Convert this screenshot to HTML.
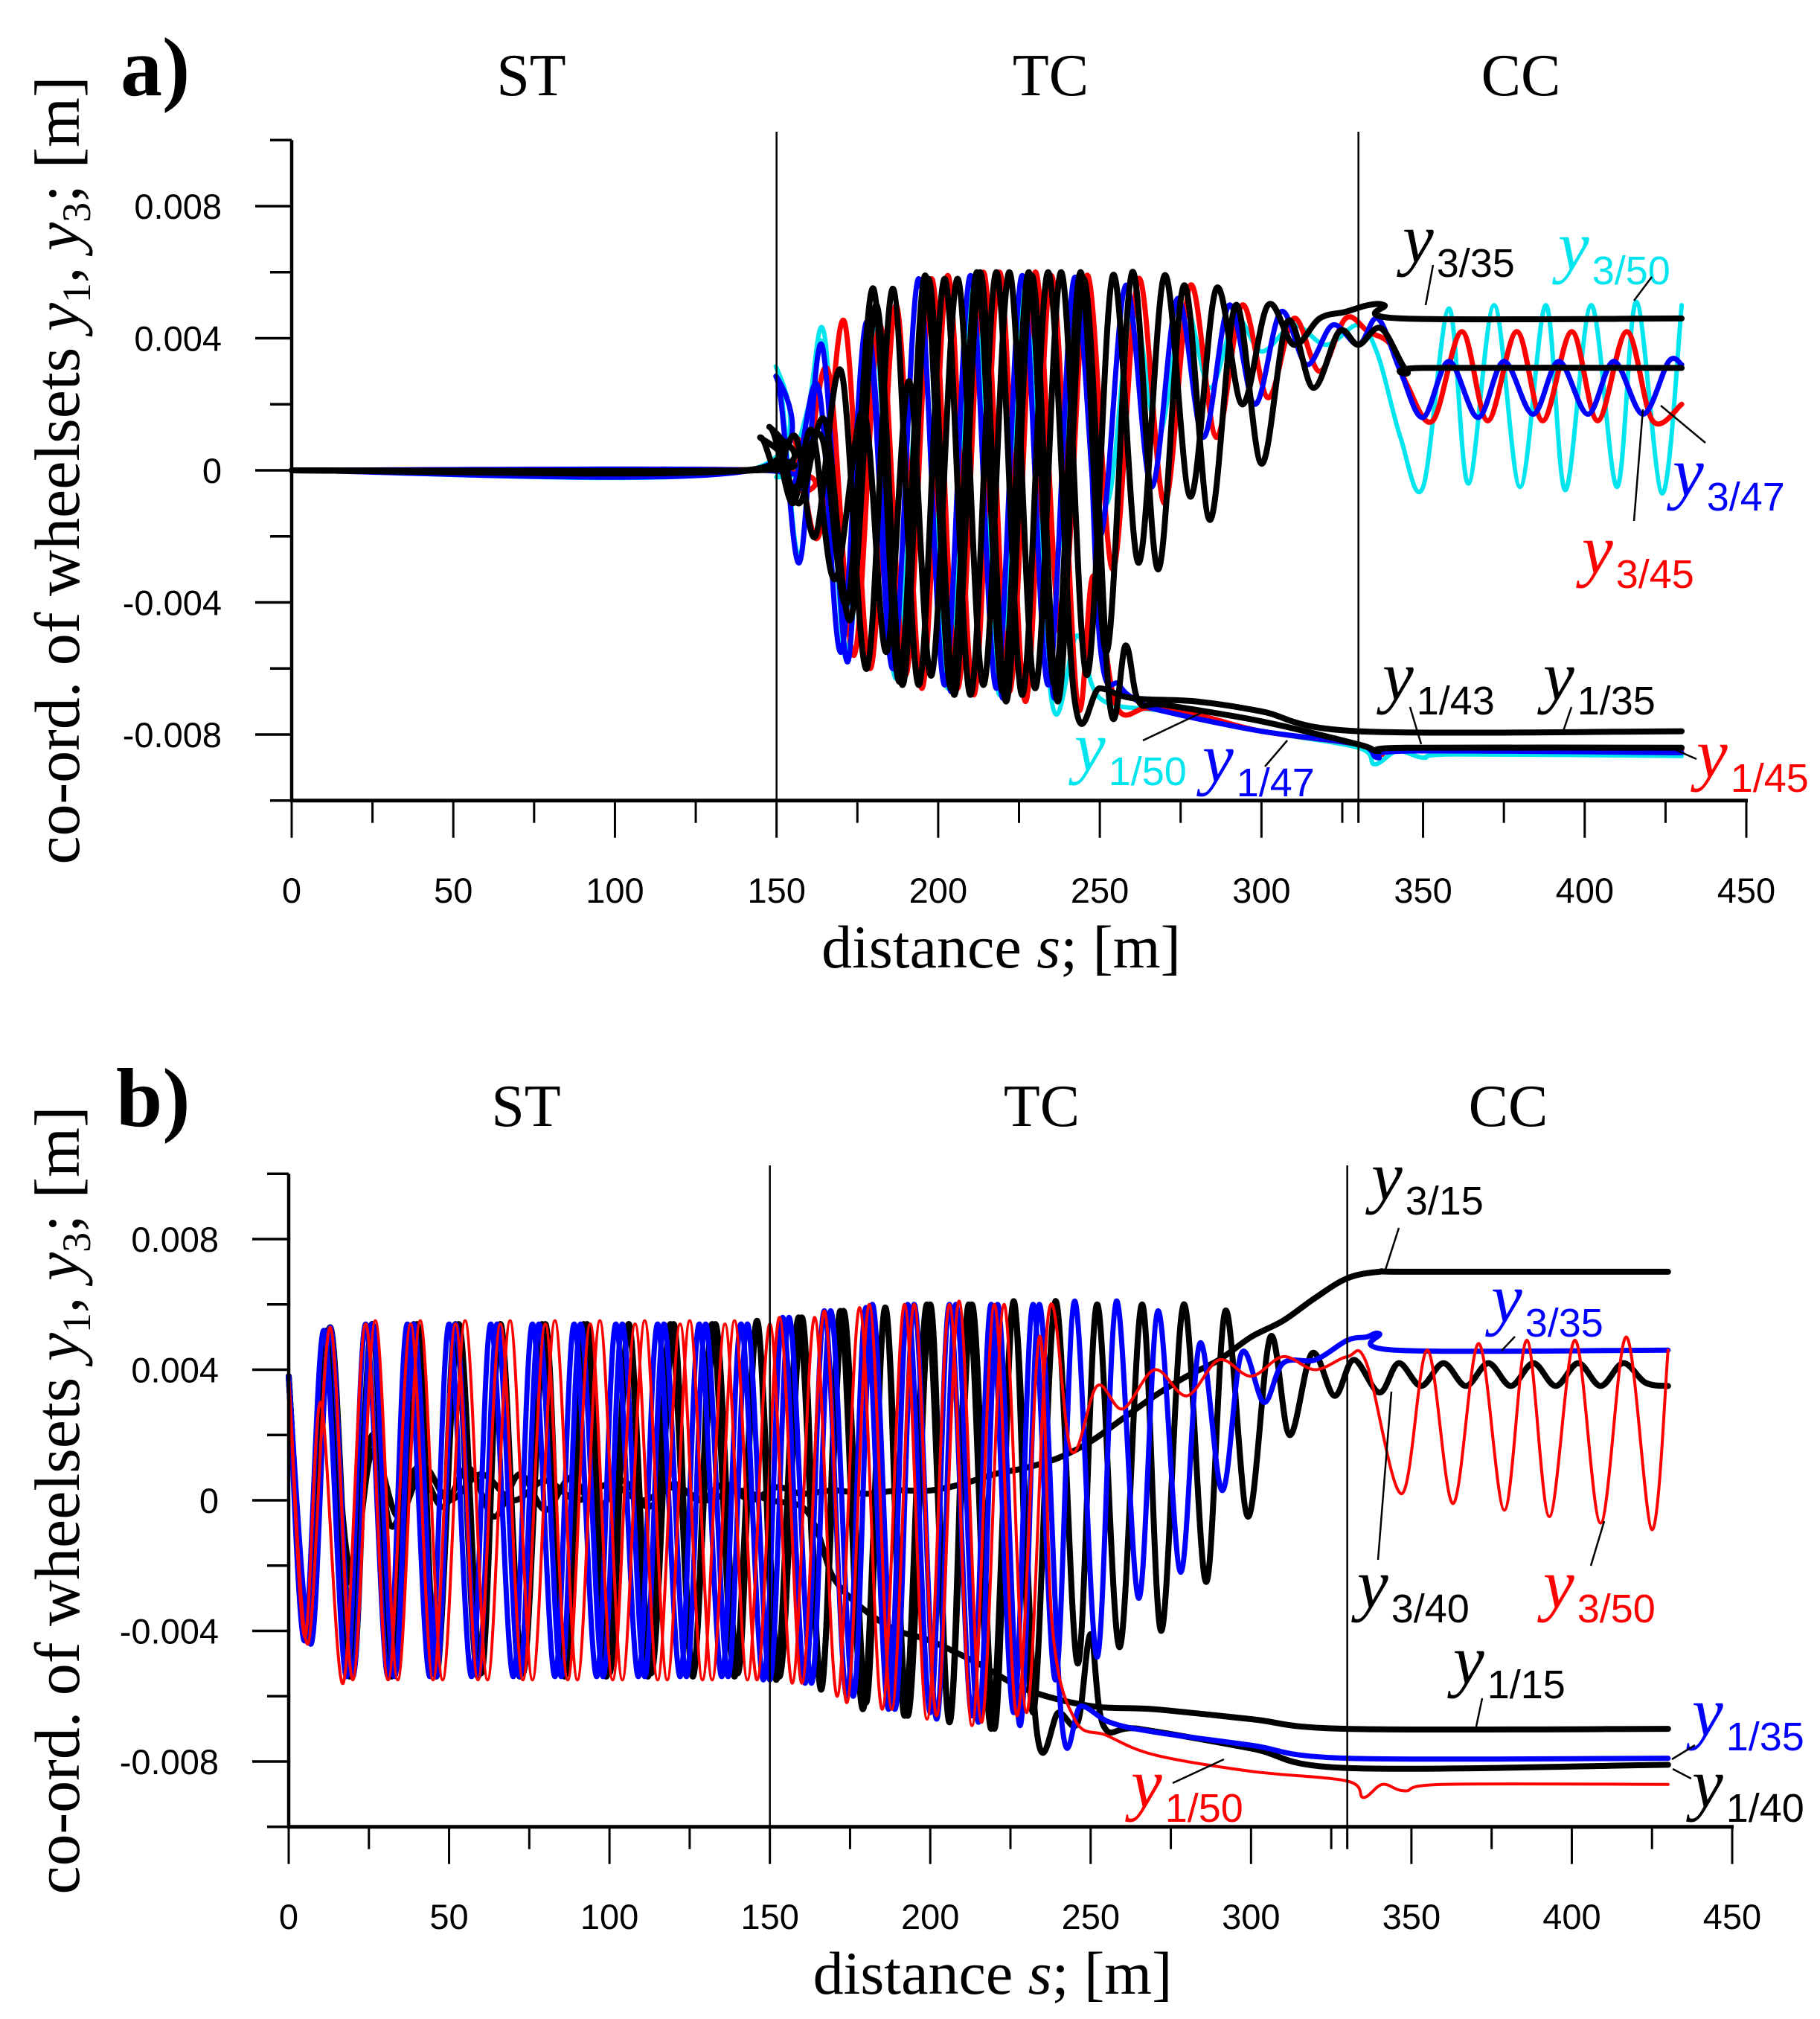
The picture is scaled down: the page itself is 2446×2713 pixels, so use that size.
<!DOCTYPE html>
<html><head><meta charset="utf-8"><style>
html,body{margin:0;padding:0;background:#fff;}
svg{display:block;}
.tk{font-family:"Liberation Sans",sans-serif;font-size:47px;fill:#000;}
.ser{font-family:"Liberation Serif",serif;fill:#000;}
.lbl{font-family:"Liberation Serif",serif;font-style:italic;font-size:94px;}
.sub{font-family:"Liberation Sans",sans-serif;font-style:normal;font-size:54px;}
</style></head><body>
<svg id="chart" width="2446" height="2713" viewBox="0 0 2446 2713" xmlns="http://www.w3.org/2000/svg">
<g id="pa"></g>
<g id="pb"></g>
</svg>
<script>
// ---- shared axis data ----
const xTicks = [0,50,100,150,200,250,300,350,400,450];
const xMinorTicks = [25,75,125,175,225,275,325,330,375,425];
const yTicks = [0.008,0.004,0,-0.004,-0.008];
const yTickLabels = ["0.008","0.004","0","-0.004","-0.008"];
const yMinorTicks = [0.01,0.006,0.002,-0.002,-0.006,-0.01];
const sections = ["ST","TC","CC"];
const sectionBounds = [150,330];

// ---- panel a data (s in m, y in mm) ----
const a_y1_50_s=[0,141,150,157,164,171.5,178,187,196,203,211,219,227,235,243,250,270,300,330,335,342,350,360,430];
const a_y1_50_y=[0,0,3.1,-2.6,3.9,-5.7,4.5,-6.3,5.8,-6.6,5.9,-6.8,5.8,-6.9,-5,-6.9,-7.3,-7.9,-8.4,-8.9,-8.5,-8.7,-8.6,-8.65];
const a_y3_50_s=[0,145,150,155,160,165,172,180,188,196,204,212,220,228,236,244,252,260,268,276,284,292,300,310,320,330,336,343,350,358,364,372,380,388,394,402,410,416,424,430];
const a_y3_50_y=[0,0,-0.2,0.3,2,4,-5.6,4.4,-6,5.7,-6.5,5.8,-6.6,5.8,-3,5.6,-1,5,1,5,2.5,4.6,3.6,4.4,3.8,4.4,3.5,1,-0.5,4.9,-0.4,5,-0.5,5,-0.6,5,-0.5,5.1,-0.7,5];
const a_y1_47_s=[0,142,150,157,164,172,178,188,196,204,212,220,228,236,244,250,256,262,270,300,330,336,345,430];
const a_y1_47_y=[0,0,2.8,-2.8,3.8,-5.8,4.5,-6.4,5.8,-6.7,5.9,-6.9,5.8,-6.9,5.8,-5.2,-6.5,-7,-7.3,-7.9,-8.3,-8.7,-8.5,-8.55];
const a_y3_47_s=[0,145,155,163,170,178,186,194,202,210,218,226,234,242,250,258,266,274,282,290,298,306,314,322,330,336,343,350,358,367,375,384,392,401,409,418,426,430];
const a_y3_47_y=[0,0,-0.5,2.5,-5.5,4.5,-6,5.8,-6.5,5.9,-6.6,5.9,-6.5,5.8,-2,5.6,-0.5,5.2,1,5,2,4.8,3.2,4.4,3.8,4.6,3,1.6,3.3,1.6,3.3,1.7,3.3,1.7,3.3,1.7,3.3,3.2];
const a_y1_45_s=[0,145,155,163,171,179,187,195,203,211,219,227,235,243,248,255,265,280,300,330,337,345,430];
const a_y1_45_y=[0,0,1,-2,4.5,-6,5,-6.6,5.9,-6.8,6,-7,5.9,-7,-3.2,-7.1,-7.2,-7.4,-7.9,-8.3,-8.6,-8.4,-8.45];
const a_y3_45_s=[0,148,158,166,174,182,190,198,206,214,222,230,238,246,254,262,270,278,286,294,302,310,318,326,333,340,345,353,362,370,379,387,396,404,413,421,430];
const a_y3_45_y=[0,0,-0.5,3,-5.6,4.4,-6.2,5.8,-6.6,6,-6.7,6,-5,5.9,-3,5.8,-1,5.6,1,5,2.2,4.6,3,4.6,4.2,3.8,2.6,1.5,4.2,1.5,4.2,1.5,4.2,1.5,4.2,1.5,2.0];
const a_y3_35_s=[0,140,148,155,161,168,177,184,191,198,206,214,222,230,238,246,254,262,270,278,286,294,302,310,318,326,333,338,343,430];
const a_y3_35_y=[0,0,1.3,-1,1.2,-3.3,1.8,-5.5,2.7,-6.2,5.8,-6.5,6,-6.6,6,-6.2,5.9,-2.8,5.9,-0.8,5.5,2,5,3.8,4.6,4.8,5,5,4.6,4.6];
const a_y3_43_s=[0,143,150,156,164,172,180,188,196,204,212,220,228,236,244,252,260,268,276,284,292,300,308,316,324,330,337,345,350,430];
const a_y3_43_y=[0,0,0.3,-0.5,1,-4,5.5,-6.4,5.9,-6.6,6,-6.7,6,-6.5,6,-5.5,6,-3,5.6,-1.5,5,0.2,4.5,2.5,4.2,3.8,4.3,3.0,3.1,3.1];
const a_y1_43_s=[0,143,150,157,165,173,181,189,197,205,213,221,229,237,245,253,258,262,270,300,330,336,345,430];
const a_y1_43_y=[0,0,1,-1,1.5,-4.5,5,-6.5,5.8,-6.8,6,-7,5.9,-7,5.8,-7,-5.3,-7,-7.1,-7.6,-8.3,-8.5,-8.4,-8.4];
const a_y1_35_s=[0,140,145,150,156,162,170,178,186,194,202,210,218,226,234,242,250,260,280,300,330,430];
const a_y1_35_y=[0,0,1,0,1,-2,3,-6,5.5,-6.5,5.8,-6.8,6,-6.8,6,-6.8,-6.6,-6.9,-7,-7.3,-7.9,-7.9];

// ---- panel b data ----
const b_y3_50_s=[0,6,13,20,27,34,41,48,55,62,69,76,83,90,97,104,111,118,125,132,139,146,153,160,167,174,181,188,195,202,209,216,223,230,237,244,252,260,270,280,290,300,310,320,330,336,347,355,363,371,379,386,393,401,409,417,425,430];
const b_y3_50_y=[3.8,-4.4,5.3,-5.5,5.5,-5.5,5.5,-5.5,5.5,-5.5,5.5,-5.5,5.5,-5.5,5.5,-5.5,5.5,-5.5,5.5,-5.5,5.5,-5.5,5.6,-5.6,5.8,-6.2,6,-6.4,6,-6.6,6.1,-6.8,6,-6.5,5.8,1.5,3.5,2.8,4,3.2,4.3,3.8,4.4,4,4.4,4.2,0.2,4.6,-0.1,4.8,-0.3,4.9,-0.5,4.9,-0.7,5,-0.9,4.6];
const b_y1_50_s=[0,5,10,17,24,31,38,45,52,59,66,73,80,87,94,101,108,115,122,129,136,143,150,157,164,171,178,185,192,199,206,213,220,227,234,238,245,255,270,300,330,335,341,348,360,430];
const b_y1_50_y=[3.8,-4.2,3,-5.6,5.4,-5.5,5.4,-5.5,5.4,-5.5,5.4,-5.5,5.4,-5.5,5.4,-5.5,5.4,-5.5,5.4,-5.5,5.4,-5.5,5.4,-5.6,5.6,-6,5.9,-6.4,6,-6.7,6,-6.9,6,-6.6,5,-3.8,-6.7,-7.2,-7.8,-8.3,-8.6,-9.1,-8.7,-8.9,-8.7,-8.7];
const b_y3_40_s=[0,6,12,19,26,32,39,46,52,59,66,72,79,86,92,99,106,112,119,126,132,139,146,152,159,166,172,179,186,192,199,206,212,219,226,232,239,246,252,259,266,272,279,286,292,299,306,312,319,326,332,340,346,353,360,367,374,381,388,395,402,409,416,423,430];
const b_y3_40_y=[3.8,-4.2,5.2,-5.4,5.4,-5.4,5.4,-5.4,5.4,-5.4,5.4,-5.4,5.4,-5.4,5.4,-5.4,5.4,-5.4,5.4,-5.4,5.4,-5.4,5.5,-5.5,5.6,-5.8,5.8,-6.4,5.9,-6.6,6,-6.8,6,-7,6.1,-6.5,6.1,-5,6,-4.5,6,-4,6,-2.5,5.8,-0.5,5,2,4.5,3.2,4.3,3.3,4.2,3.5,4.2,3.5,4.2,3.5,4.2,3.5,4.2,3.5,4.2,3.6,3.5];
const b_y1_40_s=[0,6,13,20,26,33,40,46,53,60,66,73,80,86,93,100,106,113,120,126,133,140,146,153,160,166,173,180,186,193,200,206,213,220,226,233,240,246,250,254,265,300,330,430];
const b_y1_40_y=[3.8,-4.3,5.3,-5.3,5.4,-5.3,5.4,-5.3,5.4,-5.3,5.4,-5.3,5.4,-5.3,5.4,-5.3,5.4,-5.3,5.4,-5.3,5.4,-5.3,5.4,-5.4,5.6,-5.6,5.8,-6.2,5.9,-6.6,6,-6.8,6,-7,6,-6.9,-6.5,-6.8,-4.1,-6.9,-7,-7.6,-8.2,-8.1];
const b_y3_35_s=[0,5,11,18,24,31,37,44,50,57,63,70,76,83,89,96,102,109,115,122,128,135,141,148,154,161,167,174,180,187,193,200,206,213,219,226,232,239,245,252,258,265,271,278,284,291,297,304,310,320,330,336,340,345,430];
const b_y3_35_y=[3.8,-4.3,5.2,-5.4,5.4,-5.4,5.4,-5.4,5.4,-5.4,5.4,-5.4,5.4,-5.4,5.4,-5.4,5.4,-5.4,5.4,-5.4,5.4,-5.4,5.4,-5.5,5.6,-5.6,5.8,-6,5.9,-6.4,6,-6.5,6,-6.6,6,-6.5,6,-5.5,6.1,-4.8,6.1,-3,5.8,-2.2,4.8,0.3,4.5,3,4.2,4.3,4.9,5,5.1,4.6,4.6];
const b_y1_35_s=[0,7,13,20,26,33,39,46,52,59,65,72,78,85,91,98,104,111,117,124,130,137,143,150,156,163,169,176,182,189,195,202,208,215,221,228,234,241,247,256,270,300,330,430];
const b_y1_35_y=[3.8,-4.4,5.3,-5.4,5.4,-5.4,5.4,-5.4,5.4,-5.4,5.4,-5.4,5.4,-5.4,5.4,-5.4,5.4,-5.4,5.4,-5.4,5.4,-5.4,5.4,-5.5,5.6,-5.6,5.8,-6,6,-6.4,6,-6.7,6,-6.8,6,-6.9,6,-6.8,-6.3,-6.8,-7.1,-7.5,-7.9,-7.9];
const b_y3_15_s=[0,6,12,19,26,32,40,48,56,64,72,80,88,96,104,112,120,128,136,144,152,160,170,180,190,200,210,220,230,240,250,260,270,280,290,300,310,320,330,340,350,430];
const b_y3_15_y=[3.8,-4.2,4,-2,2,-0.8,1,-0.2,1,-0.5,0.8,-0.3,0.7,-0.3,0.6,-0.2,0.5,0,0.5,0,0.4,0.2,0.3,0.2,0.3,0.3,0.5,0.8,1,1.3,1.8,2.5,3.2,3.8,4.3,5,5.5,6.2,6.8,7,7,7];
const b_y1_15_s=[0,6,12,19,26,34,42,50,60,70,80,90,100,110,120,130,140,150,160,165,170,180,190,200,215,230,250,270,300,330,430];
const b_y1_15_y=[3.8,-4.2,4,-2.5,1.5,-0.5,1,0,0.8,0,0.6,0,0.5,0,0.4,0,0.3,0,-0.2,-1,-2.4,-3.4,-4,-4.3,-5,-5.8,-6.3,-6.4,-6.7,-7.0,-7.0];

const NS="http://www.w3.org/2000/svg";
function mk(tag,attrs,parent){const e=document.createElementNS(NS,tag);for(const k in attrs)e.setAttribute(k,attrs[k]);parent.appendChild(e);return e;}

function smoothPath(pts){
  let d="M"+pts[0][0].toFixed(1)+","+pts[0][1].toFixed(1);
  for(let i=0;i<pts.length-1;i++){
    const p0=pts[i-1]||pts[i],p1=pts[i],p2=pts[i+1],p3=pts[i+2]||p2;
    const c1x=p1[0]+(p2[0]-p0[0])/6,c1y=p1[1]+(p2[1]-p0[1])/6;
    const c2x=p2[0]-(p3[0]-p1[0])/6,c2y=p2[1]-(p3[1]-p1[1])/6;
    d+=" C"+c1x.toFixed(1)+","+c1y.toFixed(1)+" "+c2x.toFixed(1)+","+c2y.toFixed(1)+" "+p2[0].toFixed(1)+","+p2[1].toFixed(1);
  }
  return d;
}

function panel(g,cfg){
  const X=s=>cfg.x0+s*(cfg.x1-cfg.x0)/450;
  const Y=v=>cfg.y0-v*1000*(cfg.y0-cfg.y8)/8; // v in m
  const Ym=v=>cfg.y0-v*(cfg.y0-cfg.y8)/8;    // v in mm
  const top=Y(0.01),bot=Y(-0.01);
  cfg.series.forEach(sr=>{
    const pts=sr.s.map((s,i)=>[X(s),Ym(sr.y[i])]);
    const p=mk("path",{d:smoothPath(pts),fill:"none",stroke:sr.c,"stroke-width":sr.w,"stroke-linejoin":"round","stroke-linecap":"round"},g);
    
    
  });
  const ax=mk("g",{},g);
  
  
  mk("line",{x1:X(0),y1:top,x2:X(0),y2:bot,stroke:"#000","stroke-width":4.5},ax);
  mk("line",{x1:X(0)-2,y1:bot,x2:X(450)+2,y2:bot,stroke:"#000","stroke-width":5},ax);
  sectionBounds.forEach(b=>{
    const l=mk("line",{x1:X(b),y1:cfg.vtop,x2:X(b),y2:bot,stroke:"#000","stroke-width":2.5},ax);
    
    
  });
  xTicks.forEach(t=>{
    mk("line",{x1:X(t),y1:bot,x2:X(t),y2:bot+50,stroke:"#000","stroke-width":3},ax);
    const tx=mk("text",{x:X(t),y:bot+137,"text-anchor":"middle",class:"tk"},ax);tx.textContent=t;
    
    
  });
  xMinorTicks.forEach(t=>mk("line",{x1:X(t),y1:bot,x2:X(t),y2:bot+30,stroke:"#000","stroke-width":3},ax));
  yTicks.forEach((t,i)=>{
    mk("line",{x1:X(0)-49,y1:Y(t),x2:X(0),y2:Y(t),stroke:"#000","stroke-width":3.5},ax);
    const tx=mk("text",{x:X(0)-94,y:Y(t)+17,"text-anchor":"end",class:"tk"},ax);tx.textContent=yTickLabels[i];
    
    
  });
  yMinorTicks.forEach(t=>mk("line",{x1:X(0)-29,y1:Y(t),x2:X(0),y2:Y(t),stroke:"#000","stroke-width":3.5},ax));
  const xt=mk("text",{x:(X(0)+X(450))/2-24,y:bot+224,"text-anchor":"middle",class:"ser","font-size":82},g);
  xt.innerHTML='distance <tspan font-style="italic">s</tspan>; [m]';
  
  
  const cy=Y(0);
  const yt=mk("text",{x:0,y:0,"text-anchor":"middle",class:"ser","font-size":86,transform:"translate(106,"+cy+") rotate(-90)"},g);
  yt.innerHTML='co-ord. of wheelsets <tspan font-style="italic">y</tspan><tspan font-size="54" dy="15">1</tspan><tspan dy="-15">, </tspan><tspan font-style="italic">y</tspan><tspan font-size="54" dy="15">3</tspan><tspan dy="-15">; [m]</tspan>';
  
  
  const pl=mk("text",{x:cfg.plx,y:cfg.sy,class:"ser","font-size":112,"font-weight":"bold"},g);pl.textContent=cfg.letter;
  
  
  sections.forEach((s,i)=>{
    const t=mk("text",{x:cfg.secx[i],y:cfg.sy,"text-anchor":"middle",class:"ser","font-size":80},g);t.textContent=s;
    
    
  });
  cfg.labels.forEach(L=>{
    const t=mk("text",{x:L.x,y:L.y,class:"lbl",fill:L.c},g);
    t.innerHTML='y<tspan class="sub" dx="4" dy="20">'+L.t+'</tspan>';
    
    
    mk("line",{x1:L.l[0],y1:L.l[1],x2:L.l[2],y2:L.l[3],stroke:"#000","stroke-width":2.5},g);
  });
}

const K="#000",R="#ff0000",B="#0000ff",C="#00e5ee";
panel(document.getElementById("pa"),{
  x0:392,x1:2347,y0:632,y8:277,vtop:177,letter:"a)",plx:162,sy:128,secx:[714,1412,2044],
  series:[
    {name:"y1-50",s:a_y1_50_s,y:a_y1_50_y,c:C,w:6},
    {name:"y3-50",s:a_y3_50_s,y:a_y3_50_y,c:C,w:6},
    {name:"y1-45",s:a_y1_45_s,y:a_y1_45_y,c:R,w:7},
    {name:"y3-45",s:a_y3_45_s,y:a_y3_45_y,c:R,w:7},
    {name:"y1-47",s:a_y1_47_s,y:a_y1_47_y,c:B,w:7},
    {name:"y3-47",s:a_y3_47_s,y:a_y3_47_y,c:B,w:7},
    {name:"y1-43",s:a_y1_43_s,y:a_y1_43_y,c:K,w:8},
    {name:"y3-43",s:a_y3_43_s,y:a_y3_43_y,c:K,w:8},
    {name:"y1-35",s:a_y1_35_s,y:a_y1_35_y,c:K,w:8},
    {name:"y3-35",s:a_y3_35_s,y:a_y3_35_y,c:K,w:8}
  ],
  labels:[
    {t:"3/35",x:1885,y:352,c:K,l:[1926,356,1916,410]},
    {t:"3/50",x:2094,y:362,c:C,l:[2220,372,2196,404]},
    {t:"3/47",x:2248,y:666,c:B,l:[2292,595,2232,545]},
    {t:"3/45",x:2126,y:770,c:R,l:[2196,700,2208,550]},
    {t:"1/43",x:1858,y:940,c:K,l:[1895,950,1910,1000]},
    {t:"1/35",x:2074,y:940,c:K,l:[2112,950,2100,985]},
    {t:"1/50",x:1444,y:1035,c:C,l:[1536,995,1614,958]},
    {t:"1/47",x:1616,y:1050,c:B,l:[1700,1030,1730,995]},
    {t:"1/45",x:2280,y:1044,c:R,l:[2280,1020,2246,1005]}
  ]
});
panel(document.getElementById("pb"),{
  x0:388,x1:2328,y0:2016,y8:1665,vtop:1566,letter:"b)",plx:156,sy:1513,secx:[707,1400,2027],
  series:[
    {name:"y3-15",s:b_y3_15_s,y:b_y3_15_y,c:K,w:8},
    {name:"y1-15",s:b_y1_15_s,y:b_y1_15_y,c:K,w:8},
    {name:"y3-40",s:b_y3_40_s,y:b_y3_40_y,c:K,w:8},
    {name:"y1-40",s:b_y1_40_s,y:b_y1_40_y,c:K,w:8},
    {name:"y3-35",s:b_y3_35_s,y:b_y3_35_y,c:B,w:7},
    {name:"y1-35",s:b_y1_35_s,y:b_y1_35_y,c:B,w:7},
    {name:"y3-50",s:b_y3_50_s,y:b_y3_50_y,c:R,w:4},
    {name:"y1-50",s:b_y1_50_s,y:b_y1_50_y,c:R,w:4}
  ],
  labels:[
    {t:"3/15",x:1843,y:1612,c:K,l:[1880,1650,1862,1706]},
    {t:"3/35",x:2004,y:1776,c:B,l:[2036,1796,2018,1815]},
    {t:"3/40",x:1824,y:2160,c:K,l:[1852,2096,1870,1870]},
    {t:"3/50",x:2074,y:2160,c:R,l:[2138,2104,2156,2044]},
    {t:"1/15",x:1953,y:2262,c:K,l:[1992,2282,1984,2320]},
    {t:"1/35",x:2274,y:2332,c:B,l:[2278,2345,2247,2364]},
    {t:"1/40",x:2274,y:2428,c:K,l:[2273,2390,2248,2377]},
    {t:"1/50",x:1520,y:2428,c:R,l:[1576,2396,1645,2364]}
  ]
});
</script>
</body></html>
